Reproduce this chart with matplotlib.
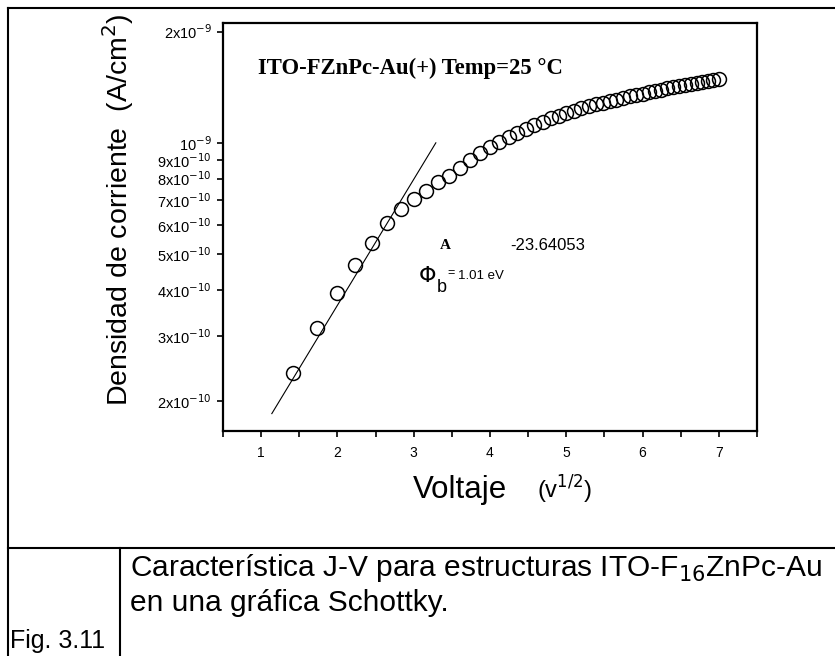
import numpy as np
import matplotlib
matplotlib.use("Agg")
import matplotlib.pyplot as plt
from matplotlib.lines import Line2D
from matplotlib.ticker import FixedLocator, MultipleLocator, NullLocator

# datos (V, J)
volt = [2, 3, 4, 5, 6, 7, 8, 9, 10, 11, 12, 13, 14, 15, 16, 17, 18, 19, 20,
        21, 22, 23, 24, 25, 26, 27, 28, 29, 30, 31, 32, 33, 34, 35, 36, 37,
        38, 39, 40, 41, 42, 43, 44, 45, 46, 47, 48, 49]
dens = [2.38e-10, 3.15e-10, 3.92e-10, 4.67e-10, 5.36e-10, 6.07e-10, 6.62e-10,
        7.05e-10, 7.41e-10, 7.84e-10, 8.14e-10, 8.56e-10, 8.99e-10, 9.40e-10,
        9.75e-10, 1.006e-9, 1.038e-9, 1.064e-9, 1.091e-9, 1.119e-9, 1.140e-9,
        1.169e-9, 1.184e-9, 1.206e-9, 1.223e-9, 1.239e-9, 1.255e-9, 1.271e-9,
        1.284e-9, 1.296e-9, 1.309e-9, 1.323e-9, 1.335e-9, 1.347e-9, 1.358e-9,
        1.369e-9, 1.380e-9, 1.392e-9, 1.403e-9, 1.412e-9, 1.423e-9, 1.433e-9,
        1.442e-9, 1.451e-9, 1.461e-9, 1.470e-9, 1.480e-9, 1.489e-9]

# recta de ajuste
fit_x = [1.14, 3.29]
fit_y = [1.85e-10, 1.0e-9]

yticks = [2e-10, 3e-10, 4e-10, 5e-10, 6e-10, 7e-10, 8e-10, 9e-10, 1e-9, 2e-9]
ylabels = ['2x10$^{-10}$', '3x10$^{-10}$', '4x10$^{-10}$', '5x10$^{-10}$',
           '6x10$^{-10}$', '7x10$^{-10}$', '8x10$^{-10}$', '9x10$^{-10}$',
           '10$^{-9}$', '2x10$^{-9}$']
xticks = [1, 2, 3, 4, 5, 6, 7]

W, H = 835, 656
def fx(px):
    return px / W
def fy(py):
    return 1 - py / H

plt.rcParams['font.family'] = ['Liberation Sans', 'DejaVu Sans']

fig = plt.figure(figsize=(8.35, 6.56), dpi=100)
ax = fig.add_axes([fx(223), fy(431), (757 - 223) / W, (431 - 23) / H])

ax.plot(np.sqrt(volt), dens, 'o', mfc='none', mec='black', ms=10, mew=1.1)
ax.plot(fit_x, fit_y, '-', color='black', lw=0.8)

ax.set_yscale('log')
ax.set_xlim(0.5, 7.5)
ax.set_ylim(1.66e-10, 2.11e-9)
ax.yaxis.set_major_locator(FixedLocator(yticks))
ax.set_yticklabels(ylabels)
ax.yaxis.set_minor_locator(NullLocator())
ax.xaxis.set_major_locator(FixedLocator(xticks))
ax.xaxis.set_minor_locator(MultipleLocator(0.5))
ax.tick_params(which='both', direction='out', length=4, width=1.2, pad=4)
ax.tick_params(axis='y', labelsize=10.5)
ax.tick_params(axis='x', labelsize=10, pad=7)
for s in ax.spines.values():
    s.set_linewidth(1.6)

fig.text(fx(258), fy(68), 'ITO-FZnPc-Au(+) Temp=25 °C', family='Liberation Serif',
         weight='bold', fontsize=16.3, va='center', ha='left')
fig.text(fx(440), fy(245), 'A', family='Liberation Serif', weight='bold',
         fontsize=11, va='center')
fig.text(fx(510), fy(245), '-23.64053', fontsize=12, va='center')
fig.text(fx(419), fy(276), 'Φ', family='DejaVu Sans', fontsize=16, va='center')
fig.text(fx(437), fy(288), 'b', fontsize=13, va='center')
fig.text(fx(447), fy(273), '=', fontsize=9, va='center')
fig.text(fx(458), fy(276), '1.01 eV', fontsize=9.5, va='center')

fig.text(fx(118), fy(210), 'Densidad de corriente  (A/cm$^2$)', rotation=90,
         fontsize=20.5, va='center', ha='center')
fig.text(fx(413), fy(490), 'Voltaje', fontsize=22.5, va='center', ha='left')
fig.text(fx(537), fy(490), '(v$^{1/2}$)', fontsize=17, va='center', ha='left')

# marco de la tabla
lines = [((8, 835), (8, 8)), ((8, 8), (8, 656)), ((8, 835), (548, 548)),
         ((120, 120), (548, 656))]
for xs, ys in lines:
    fig.add_artist(Line2D([fx(v) for v in xs], [fy(v) for v in ys],
                          transform=fig.transFigure, color='black', lw=1.5))

fig.text(fx(130), fy(568), 'Característica J-V para estructuras ITO-F$_{16}$ZnPc-Au',
         fontsize=21.5, va='center')
fig.text(fx(130), fy(603), 'en una gráfica Schottky.', fontsize=21.5, va='center')
fig.text(fx(10), fy(641), 'Fig. 3.11', fontsize=18, va='center')

fig.savefig('out.png', dpi=100)
